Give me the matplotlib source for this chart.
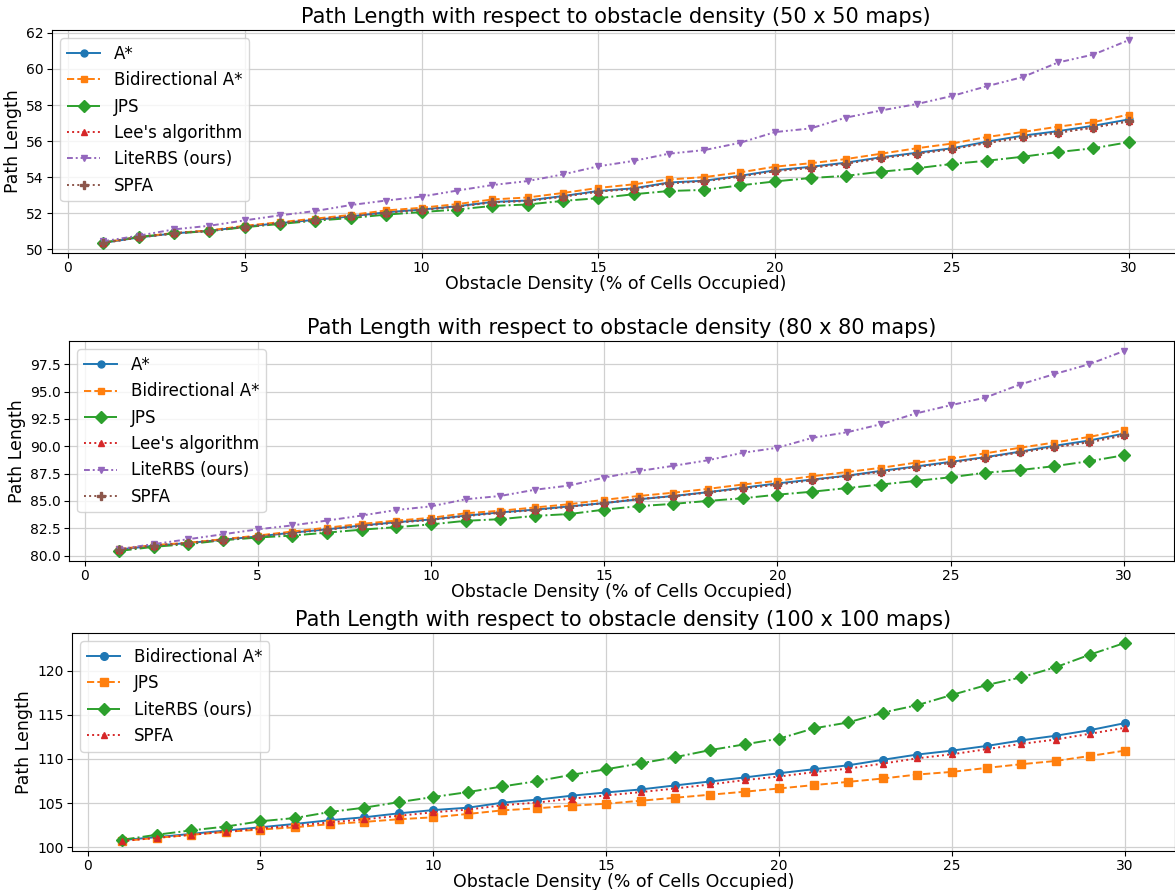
import matplotlib
matplotlib.use("Agg")
import matplotlib.pyplot as plt
import numpy as np

density = list(range(1, 31))

# ---- 50 x 50 maps ----
p50_astar = [50.35, 50.65, 50.88, 51.02, 51.25, 51.45, 51.63, 51.82, 52.05, 52.2,
             52.38, 52.62, 52.7, 52.95, 53.23, 53.38, 53.7, 53.8, 54.07, 54.38,
             54.57, 54.8, 55.1, 55.35, 55.6, 55.97, 56.3, 56.55, 56.85, 57.2]
p50_bidir = [50.37, 50.68, 50.9, 51.04, 51.3, 51.5, 51.7, 51.9, 52.15, 52.3,
             52.5, 52.76, 52.87, 53.12, 53.4, 53.6, 53.87, 54.0, 54.26, 54.58,
             54.77, 55.0, 55.3, 55.6, 55.86, 56.23, 56.5, 56.8, 57.05, 57.47]
p50_jps = [50.37, 50.68, 50.88, 51.0, 51.22, 51.4, 51.58, 51.73, 51.92, 52.06,
           52.2, 52.4, 52.48, 52.68, 52.83, 53.05, 53.23, 53.29, 53.54, 53.76,
           53.95, 54.07, 54.3, 54.49, 54.73, 54.91, 55.13, 55.39, 55.6, 55.94]
p50_lee = [50.35, 50.65, 50.88, 51.02, 51.25, 51.45, 51.63, 51.82, 52.03, 52.18,
           52.36, 52.6, 52.68, 52.92, 53.2, 53.35, 53.66, 53.77, 54.03, 54.33,
           54.52, 54.75, 55.05, 55.3, 55.55, 55.9, 56.2, 56.47, 56.75, 57.1]
p50_lite = [50.44, 50.75, 51.1, 51.3, 51.6, 51.88, 52.12, 52.45, 52.7, 52.92,
            53.25, 53.56, 53.78, 54.15, 54.6, 54.9, 55.3, 55.5, 55.9, 56.5,
            56.7, 57.3, 57.7, 58.05, 58.5, 59.05, 59.55, 60.36, 60.8, 61.6]
p50_spfa = [50.35, 50.65, 50.88, 51.02, 51.25, 51.45, 51.63, 51.82, 52.03, 52.18,
            52.36, 52.6, 52.68, 52.92, 53.2, 53.35, 53.66, 53.77, 54.03, 54.33,
            54.52, 54.75, 55.05, 55.3, 55.55, 55.9, 56.2, 56.47, 56.75, 57.1]

# ---- 80 x 80 maps ----
p80_astar = [80.55, 80.9, 81.15, 81.45, 81.75, 82.1, 82.4, 82.75, 83.05, 83.3,
             83.65, 83.95, 84.2, 84.5, 84.8, 85.15, 85.45, 85.8, 86.2, 86.6,
             86.95, 87.3, 87.75, 88.15, 88.57, 89.0, 89.5, 90.04, 90.52, 91.15]
p80_bidir = [80.6, 80.96, 81.17, 81.5, 81.83, 82.2, 82.55, 82.9, 83.2, 83.45,
             83.87, 84.1, 84.4, 84.7, 85.1, 85.45, 85.75, 86.1, 86.5, 86.83,
             87.25, 87.64, 88.03, 88.5, 88.87, 89.35, 89.86, 90.34, 90.85, 91.48]
p80_jps = [80.42, 80.8, 81.05, 81.4, 81.65, 81.83, 82.1, 82.37, 82.6, 82.85,
           83.18, 83.33, 83.63, 83.8, 84.2, 84.52, 84.73, 85.0, 85.24, 85.57,
           85.84, 86.17, 86.5, 86.83, 87.16, 87.58, 87.82, 88.18, 88.63, 89.17]
p80_lee = [80.55, 80.9, 81.15, 81.45, 81.75, 82.08, 82.38, 82.72, 83.02, 83.27,
           83.62, 83.92, 84.17, 84.47, 84.8, 85.18, 85.42, 85.78, 86.14, 86.5,
           86.9, 87.28, 87.67, 88.1, 88.48, 88.96, 89.44, 89.92, 90.37, 91.0]
p80_lite = [80.6, 81.05, 81.5, 81.95, 82.4, 82.76, 83.2, 83.66, 84.17, 84.5,
            85.15, 85.45, 86.02, 86.41, 87.13, 87.73, 88.21, 88.72, 89.4, 89.86,
            90.76, 91.27, 92.02, 93.0, 93.75, 94.44, 95.64, 96.6, 97.5, 98.7]
p80_spfa = [80.55, 80.9, 81.15, 81.45, 81.75, 82.08, 82.38, 82.72, 83.02, 83.27,
            83.62, 83.92, 84.17, 84.47, 84.8, 85.18, 85.42, 85.78, 86.14, 86.5,
            86.9, 87.28, 87.67, 88.1, 88.48, 88.96, 89.44, 89.92, 90.37, 91.0]

# ---- 100 x 100 maps ----
p100_bidir = [100.8, 101.13, 101.5, 101.88, 102.25, 102.63, 103.05, 103.38, 103.83, 104.2,
              104.47, 105.04, 105.38, 105.83, 106.2, 106.54, 107.0, 107.44, 107.9, 108.38,
              108.83, 109.28, 109.9, 110.5, 110.94, 111.47, 112.1, 112.63, 113.27, 114.06]
p100_jps = [100.68, 101.05, 101.39, 101.73, 101.99, 102.25, 102.6, 102.86, 103.16, 103.38,
            103.76, 104.17, 104.4, 104.7, 104.92, 105.26, 105.6, 105.94, 106.28, 106.65,
            107.03, 107.4, 107.78, 108.23, 108.53, 108.98, 109.4, 109.77, 110.34, 110.94]
p100_lite = [100.83, 101.4, 101.9, 102.33, 102.93, 103.3, 103.98, 104.47, 105.1, 105.68,
             106.24, 106.88, 107.48, 108.2, 108.83, 109.5, 110.2, 111.0, 111.65, 112.3,
             113.46, 114.14, 115.26, 116.1, 117.26, 118.38, 119.25, 120.4, 121.84, 123.16]
p100_spfa = [100.7, 101.05, 101.4, 101.75, 102.1, 102.45, 102.8, 103.15, 103.55, 103.95,
             104.25, 104.75, 105.05, 105.5, 105.86, 106.24, 106.65, 107.1, 107.6, 108.0,
             108.5, 108.9, 109.47, 110.07, 110.53, 111.1, 111.7, 112.2, 112.86, 113.53]

titles = ["Path Length with respect to obstacle density (50 x 50 maps)",
          "Path Length with respect to obstacle density (80 x 80 maps)",
          "Path Length with respect to obstacle density (100 x 100 maps)"]
xlabel = "Obstacle Density (% of Cells Occupied)"
ylabel = "Path Length"
xticks = [0, 5, 10, 15, 20, 25, 30]
yticks80 = [80.0, 82.5, 85.0, 87.5, 90.0, 92.5, 95.0, 97.5]
yticks100 = [100, 105, 110, 115, 120]

C = plt.rcParams['axes.prop_cycle'].by_key()['color']
dashdotdot = (0, (3, 1.5, 1, 1.5, 1, 1.5))

fig = plt.figure(figsize=(11.75, 8.9), dpi=100)
positions = [[0.0443, 0.7157, 0.960, 0.2506],
             [0.0587, 0.3697, 0.9404, 0.247],
             [0.0613, 0.0438, 0.9387, 0.245]]
axes = [fig.add_axes(p) for p in positions]

def style(ax, title):
    ax.set_title(title, fontsize=15, pad=5)
    ax.set_xlabel(xlabel, fontsize=12.5, labelpad=0)
    ax.set_ylabel(ylabel, fontsize=12.5, labelpad=3)
    ax.set_xticks(xticks)
    ax.tick_params(labelsize=10, pad=2.5)
    ax.grid(True, color='#d0d0d0', linewidth=0.9)
    ax.legend(loc='upper left', fontsize=12, framealpha=0.8)

series_full = [
    ("A*", '-', 'o', 0),
    ("Bidirectional A*", '--', 's', 1),
    ("JPS", '-.', 'D', 2),
    ("Lee's algorithm", ':', '^', 3),
    ("LiteRBS (ours)", dashdotdot, 'v', 4),
    ("SPFA", ':', 'P', 5),
]
data50 = [p50_astar, p50_bidir, p50_jps, p50_lee, p50_lite, p50_spfa]
data80 = [p80_astar, p80_bidir, p80_jps, p80_lee, p80_lite, p80_spfa]
msizes = [5, 5, 6, 4, 5, 6]

for ax, data, t in [(axes[0], data50, titles[0]), (axes[1], data80, titles[1])]:
    for (lab, ls, mk, ci), y, ms in zip(series_full, data, msizes):
        ax.plot(density, y, linestyle=ls, marker=mk, color=C[ci], label=lab,
                markersize=ms, linewidth=1.4)
    style(ax, t)
axes[1].set_yticks(yticks80)
axes[1].set_yticklabels([f"{v:.1f}" for v in yticks80])

series3 = [("Bidirectional A*", '-', 'o', 0, p100_bidir, 5.5),
           ("JPS", '--', 's', 1, p100_jps, 5.5),
           ("LiteRBS (ours)", '-.', 'D', 2, p100_lite, 6),
           ("SPFA", ':', '^', 3, p100_spfa, 4.5)]
for lab, ls, mk, ci, y, ms in series3:
    axes[2].plot(density, y, linestyle=ls, marker=mk, color=C[ci], label=lab,
                 markersize=ms, linewidth=1.4)
style(axes[2], titles[2])
axes[2].set_yticks(yticks100)

fig.savefig("out.png", dpi=100)
